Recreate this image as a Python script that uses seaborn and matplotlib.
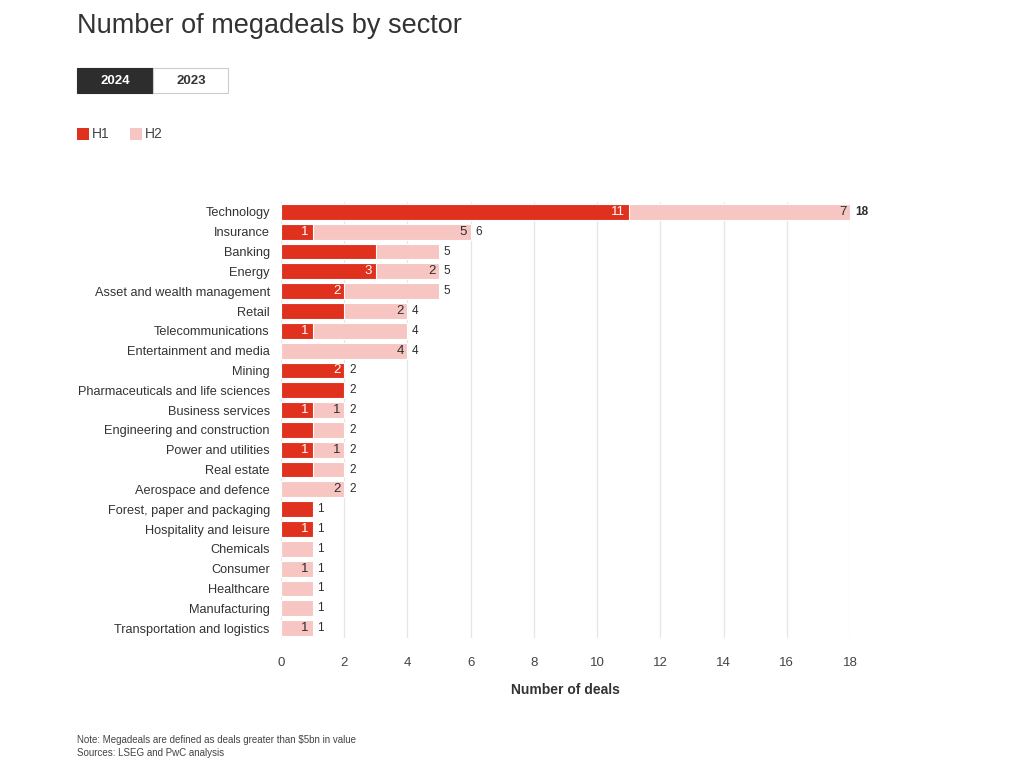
import matplotlib
matplotlib.use("Agg")
import matplotlib.pyplot as plt
import pandas as pd
import seaborn as sns
from matplotlib.patches import Rectangle

# data
sectors = [
    "Technology", "Insurance", "Banking", "Energy", "Asset and wealth management",
    "Retail", "Telecommunications", "Entertainment and media", "Mining",
    "Pharmaceuticals and life sciences", "Business services",
    "Engineering and construction", "Power and utilities", "Real estate",
    "Aerospace and defence", "Forest, paper and packaging",
    "Hospitality and leisure", "Chemicals", "Consumer", "Healthcare",
    "Manufacturing", "Transportation and logistics",
]
h1 = [11, 1, 3, 3, 2, 2, 1, 0, 2, 2, 1, 1, 1, 1, 0, 1, 1, 0, 0, 0, 0, 0]
h2 = [7, 5, 2, 2, 3, 2, 3, 4, 0, 0, 1, 1, 1, 1, 2, 0, 0, 1, 1, 1, 1, 1]
# segment labels as printed in the source (some are missing there)
h1_labels = ["11", "1", "", "3", "2", "", "1", "", "2", "", "1", "", "1", "", "", "", "1", "", "", "", "", ""]
h2_labels = ["7", "5", "", "2", "", "2", "", "4", "", "", "1", "", "1", "", "2", "", "", "", "1", "", "", "1"]
x_ticks = [0, 2, 4, 6, 8, 10, 12, 14, 16, 18]

RED = "#E0301E"
PINK = "#F7C6C2"
DARK = "#2d2d2d"

df = pd.DataFrame({"sector": sectors, "H1": h1, "H2": h2})
df["total"] = df["H1"] + df["H2"]

sns.set_theme(style="white")
plt.rcParams["font.family"] = ["Liberation Sans", "DejaVu Sans"]

fig = plt.figure(figsize=(10.24, 7.71), dpi=100)
ax = fig.add_axes([0.2744, 0.1725, 0.5557, 0.5655])

# stacked bars: full total in pink, H1 in red on top
sns.barplot(data=df, y="sector", x="total", color=PINK, orient="h", width=0.8,
            saturation=1, edgecolor="white", linewidth=0.8, ax=ax, zorder=2)
sns.barplot(data=df, y="sector", x="H1", color=RED, orient="h", width=0.8,
            saturation=1, edgecolor="white", linewidth=0.8, ax=ax, zorder=3)

ax.set_xlim(0, 18)
ax.set_ylim(len(sectors) - 0.5, -0.5)
ax.set_xticks(x_ticks)
ax.set_xticklabels([str(t) for t in x_ticks], fontsize=9.5, color="#444444")
ax.tick_params(axis="x", length=0, pad=14)
ax.tick_params(axis="y", length=0, pad=8, labelsize=9.2, labelcolor="#333333")
ax.set_ylabel("")
ax.set_xlabel("Number of deals", fontsize=10, fontweight="bold", color="#333333", labelpad=10)
for s in ax.spines.values():
    s.set_visible(False)
ax.grid(axis="x", color="#e6e6e6", linewidth=0.9, zorder=0)
ax.set_axisbelow(True)

# labels inside segments and totals
for i, row in df.iterrows():
    if h1_labels[i]:
        ax.text(row["H1"] - 0.12, i, h1_labels[i], ha="right", va="center",
                fontsize=9.5, color="white", zorder=5)
    if h2_labels[i]:
        ax.text(row["total"] - 0.12, i, h2_labels[i], ha="right", va="center",
                fontsize=9.5, color=DARK, zorder=5)
    ax.text(row["total"] + 0.15, i, str(row["total"]), ha="left", va="center",
            fontsize=8.5, color=DARK, fontweight="bold" if row["total"] >= 10 else "normal",
            clip_on=False, zorder=5)

# title, year toggle, legend, notes
fig.text(77 / 1024, 1 - 26 / 771, "Number of megadeals by sector", fontsize=19.5,
         color="#333333", va="center", ha="left")

fig.patches.append(Rectangle((77 / 1024, 1 - 93 / 771), 76 / 1024, 25 / 771,
                             transform=fig.transFigure, facecolor="#2d2d2d",
                             edgecolor="#2d2d2d", linewidth=0.8))
fig.patches.append(Rectangle((153 / 1024, 1 - 93 / 771), 75 / 1024, 25 / 771,
                             transform=fig.transFigure, facecolor="white",
                             edgecolor="#cccccc", linewidth=0.8))
fig.text(115 / 1024, 1 - 81 / 771, "2024", fontsize=9.5, fontweight="bold",
         color="white", ha="center", va="center")
fig.text(191 / 1024, 1 - 81 / 771, "2023", fontsize=9.5, fontweight="bold",
         color="#333333", ha="center", va="center")

fig.patches.append(Rectangle((77 / 1024, 1 - 140 / 771), 12 / 1024, 12 / 771,
                             transform=fig.transFigure, facecolor=RED, edgecolor="none"))
fig.text(92 / 1024, 1 - 134 / 771, "H1", fontsize=10, color="#444444", va="center")
fig.patches.append(Rectangle((130 / 1024, 1 - 140 / 771), 12 / 1024, 12 / 771,
                             transform=fig.transFigure, facecolor=PINK, edgecolor="none"))
fig.text(145 / 1024, 1 - 134 / 771, "H2", fontsize=10, color="#444444", va="center")

fig.text(77 / 1024, 1 - 740 / 771, "Note: Megadeals are defined as deals greater than $5bn in value",
         fontsize=7, color="#444444", va="center")
fig.text(77 / 1024, 1 - 753 / 771, "Sources: LSEG and PwC analysis",
         fontsize=7, color="#444444", va="center")

fig.savefig("out.png", dpi=100, facecolor="white")
